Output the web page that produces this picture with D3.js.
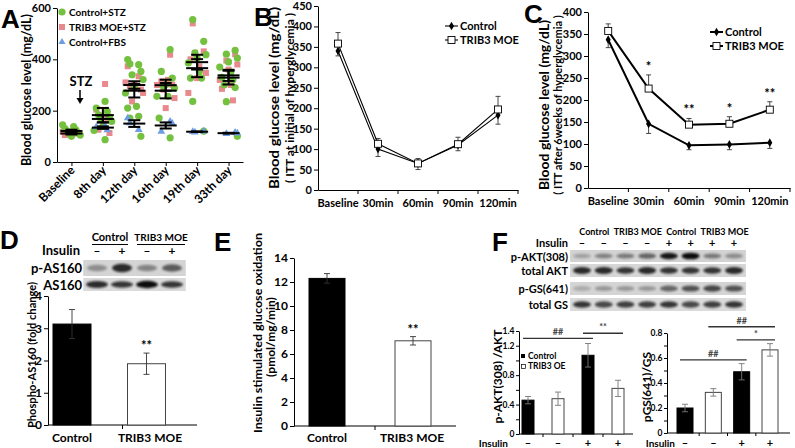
<!DOCTYPE html>
<html>
<head>
<meta charset="utf-8">
<script src="https://cdn.jsdelivr.net/npm/d3@7"></script>
<style>
  body { margin: 0; background: #fff; }
  text { font-family: Lato, 'Open Sans', sans-serif; font-weight: 700; fill: #000; }
</style>
</head>
<body>
<script>
// ---- data ----
const daysA = ['Baseline', '8th day', '12th day', '16th day', '19th day', '33th day'];
const stzCtrl = [
  [145, 138, 130, 125, 120, 115, 110, 105, 100],
  [236, 210, 197, 184, 175, 169, 158, 139, 123, 87],
  [399, 379, 382, 353, 340, 321, 292, 269, 217, 210, 178, 171, 100],
  [438, 353, 327, 295, 288, 301, 256, 256, 171, 94],
  [555, 470, 425, 418, 405, 386, 353, 327, 327, 236, 120],
  [435, 420, 405, 390, 370, 350, 330, 320, 300, 290, 235, 100]
];
const stzTrib = [
  [118, 110, 105],
  [304, 204, 169, 126, 113, 180],
  [373, 334, 295, 282, 236, 269, 300, 310],
  [418, 314, 301, 282, 249, 210, 300, 320],
  [540, 431, 425, 347, 327, 269, 373, 400],
  [420, 395, 380, 360, 320, 300, 285, 240]
];
const fbsCtrl = [
  [],
  [141, 136, 125],
  [171, 126, 152],
  [158, 119, 150],
  [118, 120, 116],
  [115, 110, 112]
];

const timesITT = ['Baseline', '30min', '60min', '90min', '120min'];
const ittBCtrl = [340, 100, 65, 110, 183];
const ittBCtrlErr = [12, 18, 15, 14, 22];
const ittBTrib = [358, 113, 65, 112, 197];
const ittBTribErr = [27, 13, 12, 17, 32];

const ittCCtrl = [337, 146, 97, 99, 103];
const ittCCtrlErr = [18, 22, 10, 12, 13];
const ittCTrib = [357, 226, 144, 146, 178];
const ittCTribErr = [16, 31, 14, 16, 18];
const ittCStars = ['', '*', '**', '*', '**'];

const groupsDE = ['Control', 'TRIB3 MOE'];
const as160 = [3.13, 1.9];
const as160Err = [0.45, 0.33];
const glucOx = [12.3, 7.1];
const glucOxErr = [0.4, 0.35];

const insulinD = ['–', '+', '–', '+'];
const bandsPAS160 = [0.35, 0.85, 0.4, 0.6];
const bandsAS160 = [0.85, 0.8, 1.0, 0.8];

const headersF = ['Control', 'TRIB3 MOE', 'Control', 'TRIB3 MOE'];
const insulinF = ['–', '–', '–', '–', '+', '+', '+', '+'];
const bandsPAKT = [0.25, 0.4, 0.45, 0.55, 0.95, 1.0, 0.45, 0.35];
const bandsAKT = [0.85, 0.85, 0.8, 0.85, 0.8, 0.8, 0.8, 0.85];
const bandsPGS = [0.2, 0.3, 0.3, 0.3, 0.55, 0.65, 0.7, 0.65];
const bandsGS = [0.8, 0.7, 0.75, 0.75, 0.8, 0.7, 0.75, 0.8];

const barsF = ['c-', 't-', 'c+', 't+'];
const barFill = ['Control', 'TRIB3 OE', 'Control', 'TRIB3 OE'];
const insulinBars = ['–', '–', '+', '+'];
const aktRatio = [0.46, 0.48, 1.07, 0.62];
const aktRatioErr = [0.05, 0.09, 0.16, 0.11];
const gsRatio = [0.2, 0.325, 0.49, 0.665];
const gsRatioErr = [0.03, 0.03, 0.065, 0.05];
const sigAkt = [{ a: 0, b: 2, v: 1.30, s: '##' }, { a: 2, b: 3, v: 1.37, s: '**' }];
const sigGs = [{ a: 1, b: 3, v: 0.85, s: '##' }, { a: 2, b: 3, v: 0.745, s: '*' }, { a: 0, b: 2, v: 0.585, s: '##' }];

// ---- setup ----
const svg = d3.select('body').append('svg').attr('width', 795).attr('height', 448);
svg.append('defs').append('filter').attr('id', 'blur')
  .attr('x', '-50%').attr('y', '-50%').attr('width', '200%').attr('height', '200%')
  .append('feGaussianBlur').attr('stdDeviation', 1.2);

// len: squeeze text to the length it has in the figure
function label(g, x, y, s, size, anchor, rot, len) {
  const t = g.append('text').attr('x', x).attr('y', y).attr('font-size', size)
    .attr('text-anchor', anchor || 'start').text(s);
  if (rot) t.attr('transform', `rotate(${rot},${x},${y})`);
  if (len) t.attr('textLength', len).attr('lengthAdjust', 'spacingAndGlyphs');
  return t;
}

function styleAxis(g, size) {
  g.attr('font-family', null).attr('font-size', size);
  g.selectAll('line, path').attr('stroke', '#000').attr('stroke-width', 1);
  g.selectAll('text').attr('fill', '#000');
}

function panelLetter(x, y, s) {
  svg.append('text').attr('x', x).attr('y', y).attr('font-size', 26)
    .style('font-family', "'Liberation Sans', Arial, sans-serif").style('font-weight', 700).text(s);
}

// ================= A =================
const gA = svg.append('g');
const xA = d3.scalePoint().domain(daysA).range([57, 243]).padding(0.46);
const yA = d3.scaleLinear().domain([0, 600]).range([162, 8]);

gA.append('g').attr('transform', 'translate(57,0)')
  .call(d3.axisLeft(yA).tickValues([0, 200, 400, 600]).tickSize(4).tickSizeOuter(0).tickPadding(2))
  .call(styleAxis, 11);
gA.append('g').attr('transform', 'translate(0,162)')
  .call(d3.axisBottom(xA).tickSize(4).tickSizeOuter(0).tickFormat(''))
  .call(styleAxis, 11);

daysA.forEach(d => label(gA, xA(d) + 4, 171, d, 12, 'end', -45));
label(gA, 31, 90, 'Blood glucose level (mg/dL)', 13, 'middle', -90, 152);

const jit = i => ((i * 5) % 9 - 4) * 2.2;
const groupsA = [
  { vals: stzTrib, kind: 'square', color: '#e8898d' },
  { vals: stzCtrl, kind: 'circle', color: '#74c03f' },
  { vals: fbsCtrl, kind: 'tri', color: '#6d9de2' }
];

groupsA.forEach(grp => {
  grp.vals.forEach((arr, j) => {
    const cx = xA(daysA[j]);
    arr.forEach((v, i) => {
      const px = cx + jit(i + j), py = yA(v);
      if (grp.kind === 'circle') {
        gA.append('circle').attr('cx', px).attr('cy', py).attr('r', 3.6).attr('fill', grp.color);
      } else if (grp.kind === 'square') {
        gA.append('rect').attr('x', px - 3).attr('y', py - 3).attr('width', 6).attr('height', 6).attr('fill', grp.color);
      } else {
        gA.append('path').attr('d', d3.symbol(d3.symbolTriangle, 26)())
          .attr('transform', `translate(${px},${py})`).attr('fill', grp.color);
      }
    });
  });
});

groupsA.forEach(grp => {
  grp.vals.forEach((arr, j) => {
    if (!arr.length) return;
    const cx = xA(daysA[j]);
    const m = d3.mean(arr);
    const se = arr.length > 1 ? d3.deviation(arr) / Math.sqrt(arr.length) : 0;
    const mk = gA.append('g').attr('stroke', '#000').attr('stroke-width', 2);
    mk.append('line').attr('x1', cx - 11).attr('x2', cx + 11).attr('y1', yA(m)).attr('y2', yA(m));
    mk.append('line').attr('x1', cx).attr('x2', cx).attr('y1', yA(m - se)).attr('y2', yA(m + se));
    [m - se, m + se].forEach(v => mk.append('line').attr('x1', cx - 6).attr('x2', cx + 6).attr('y1', yA(v)).attr('y2', yA(v)));
  });
});

// STZ arrow
label(gA, 81, 86, 'STZ', 13, 'middle');
gA.append('line').attr('x1', 80).attr('x2', 80).attr('y1', 90).attr('y2', 100).attr('stroke', '#000').attr('stroke-width', 1.5);
gA.append('path').attr('d', 'M76.5,98 L83.5,98 L80,104 Z').attr('fill', '#000');

// legend A
gA.append('circle').attr('cx', 62).attr('cy', 12).attr('r', 3.6).attr('fill', '#74c03f');
label(gA, 69, 16, 'Control+STZ', 10);
gA.append('rect').attr('x', 59).attr('y', 24).attr('width', 6).attr('height', 6).attr('fill', '#e8898d');
label(gA, 69, 31, 'TRIB3 MOE+STZ', 10);
gA.append('path').attr('d', d3.symbol(d3.symbolTriangle, 22)()).attr('transform', 'translate(62,42)').attr('fill', '#6d9de2');
label(gA, 69, 46, 'Control+FBS', 10);
panelLetter(1, 28, 'A');

// ================= B & C =================
function ittPanel(opt) {
  const g = svg.append('g');
  const x = d3.scaleBand().domain(timesITT).range([opt.x0, opt.x1]);
  const y = d3.scaleLinear().domain([0, opt.max]).range([opt.yb, opt.yt]);
  const cx = t => x(t) + x.bandwidth() / 2;

  g.append('g').attr('transform', `translate(${opt.x0},0)`)
    .call(d3.axisLeft(y).ticks(opt.max / 50).tickSize(4).tickSizeOuter(0).tickPadding(2))
    .call(styleAxis, 11);
  const ax = g.append('g').attr('transform', `translate(0,${opt.yb})`)
    .call(d3.axisBottom(x).tickSize(0).tickSizeOuter(0).tickPadding(9))
    .call(styleAxis, 11);
  timesITT.slice(1).forEach(t => ax.append('line').attr('x1', x(t)).attr('x2', x(t)).attr('y1', 0).attr('y2', 4).attr('stroke', '#000'));
  ax.append('line').attr('x1', opt.x1).attr('x2', opt.x1).attr('y1', 0).attr('y2', 4).attr('stroke', '#000');

  const line = d3.line().x((d, i) => cx(timesITT[i])).y(d => y(d));
  const err = (vals, errs, dir) => vals.forEach((v, i) => {
    const px = cx(timesITT[i]), e = v + dir * errs[i];
    g.append('line').attr('x1', px).attr('x2', px).attr('y1', y(v)).attr('y2', y(e)).attr('stroke', '#333').attr('stroke-width', 0.9);
    g.append('line').attr('x1', px - 2.5).attr('x2', px + 2.5).attr('y1', y(e)).attr('y2', y(e)).attr('stroke', '#333').attr('stroke-width', 0.9);
  });
  err(opt.ctrl, opt.ctrlErr, -1);
  err(opt.trib, opt.tribErr, 1);

  g.append('path').attr('d', line(opt.ctrl)).attr('fill', 'none').attr('stroke', '#000').attr('stroke-width', opt.lw);
  g.append('path').attr('d', line(opt.trib)).attr('fill', 'none').attr('stroke', '#000').attr('stroke-width', opt.lw);

  const diamond = d3.symbol(d3.symbolDiamond, 22)();
  opt.ctrl.forEach((v, i) => g.append('path').attr('d', diamond).attr('transform', `translate(${cx(timesITT[i])},${y(v)})`).attr('fill', '#000'));
  opt.trib.forEach((v, i) => g.append('rect').attr('x', cx(timesITT[i]) - 3.5).attr('y', y(v) - 3.5)
    .attr('width', 7).attr('height', 7).attr('fill', '#fff').attr('stroke', '#000').attr('stroke-width', 0.9));

  if (opt.stars) opt.stars.forEach((s, i) => {
    if (!s) return;
    label(g, cx(timesITT[i]), y(opt.trib[i] + opt.tribErr[i]) - 4, s, 13, 'middle');
  });

  // legend
  const L = opt.legend;
  [0, 1].forEach(k => {
    const ly = L.y + k * 14;
    g.append('line').attr('x1', L.x).attr('x2', L.x + 13).attr('y1', ly).attr('y2', ly).attr('stroke', '#000').attr('stroke-width', opt.lw);
    if (k === 0) g.append('path').attr('d', diamond).attr('transform', `translate(${L.x + 6.5},${ly})`).attr('fill', '#000');
    else g.append('rect').attr('x', L.x + 3).attr('y', ly - 3.5).attr('width', 7).attr('height', 7).attr('fill', '#fff').attr('stroke', '#000').attr('stroke-width', 0.9);
    label(g, L.x + 15, ly + 4, k === 0 ? 'Control' : 'TRIB3 MOE', 11);
  });

  label(g, opt.ylx[0], opt.ymid, 'Blood glucose level (mg/dL)', 13, 'middle', -90, opt.ylen);
  label(g, opt.ylx[1], opt.ymid, opt.yl2, opt.yl2size, 'middle', -90);
}

ittPanel({ x0: 318, x1: 518, yb: 190, yt: 6, max: 450, ctrl: ittBCtrl, ctrlErr: ittBCtrlErr,
  trib: ittBTrib, tribErr: ittBTribErr, lw: 1.1, legend: { x: 445, y: 26 },
  ylx: [279, 294], ymid: 98, ylen: 182, yl2: '( ITT at initial of hyperglycemia )', yl2size: 12 });
panelLetter(254, 26, 'B');

ittPanel({ x0: 588, x1: 790, yb: 188, yt: 12, max: 400, ctrl: ittCCtrl, ctrlErr: ittCCtrlErr,
  trib: ittCTrib, tribErr: ittCTribErr, lw: 2, stars: ittCStars, legend: { x: 710, y: 32 },
  ylx: [549, 562], ymid: 105, ylen: 170, yl2: '( ITT after 6weeks of hyperglycemia )', yl2size: 11 });
panelLetter(524, 23, 'C');

// ================= blots =================
function blotRow(g, lanes, vals, y0, y1, bg, rx) {
  const [a, b] = lanes.range();
  const step = lanes.step();
  g.append('rect').attr('x', a - step * 0.55).attr('y', y0).attr('width', b - a + step * 1.1).attr('height', y1 - y0).attr('fill', bg);
  vals.forEach((v, i) => {
    g.append('ellipse').attr('cx', lanes(i)).attr('cy', (y0 + y1) / 2).attr('rx', rx)
      .attr('ry', (y1 - y0) * (0.16 + 0.12 * v)).attr('fill', '#111').attr('opacity', v).attr('filter', 'url(#blur)');
  });
}

// ================= D =================
const gD = svg.append('g');
const laneD = d3.scalePoint().domain(d3.range(4)).range([97, 172]);
label(gD, 110, 241, 'Control', 11, 'middle');
label(gD, 161, 241, 'TRIB3 MOE', 10, 'middle');
gD.append('line').attr('x1', 92).attr('x2', 128).attr('y1', 244.5).attr('y2', 244.5).attr('stroke', '#000');
gD.append('line').attr('x1', 137).attr('x2', 185).attr('y1', 244.5).attr('y2', 244.5).attr('stroke', '#000');
label(gD, 80, 255, 'Insulin', 13, 'end');
insulinD.forEach((s, i) => label(gD, laneD(i), 255, s, 12, 'middle'));
blotRow(gD, laneD, bandsPAS160, 260, 276, '#d4d4d4', 10);
blotRow(gD, laneD, bandsAS160, 278, 291, '#dadada', 11);
label(gD, 82, 273, 'p-AS160', 13, 'end');
label(gD, 82, 290, 'AS160', 13, 'end');
panelLetter(0, 249, 'D');

const yD = d3.scaleLinear().domain([0, 4]).range([425, 296]);
const xD = d3.scalePoint().domain(groupsDE).range([72, 146.5]);
gD.append('g').attr('transform', 'translate(48,0)')
  .call(d3.axisLeft(yD).ticks(4).tickSize(4).tickSizeOuter(0).tickPadding(2)).call(styleAxis, 12);
gD.append('line').attr('x1', 48).attr('x2', 197).attr('y1', 425).attr('y2', 425).attr('stroke', '#000');
gD.append('line').attr('x1', 122.5).attr('x2', 122.5).attr('y1', 425).attr('y2', 429).attr('stroke', '#000');

function bars(g, x, y, vals, errs, w, fills, errColor) {
  vals.forEach((v, i) => {
    const c = x(x.domain()[i]);
    const black = fills[i] === 'Control';
    g.append('rect').attr('x', c - w / 2).attr('y', y(v)).attr('width', w).attr('height', y(0) - y(v))
      .attr('fill', black ? '#000' : '#fff').attr('stroke', black ? '#000' : '#444').attr('stroke-width', 1);
    const e = g.append('g').attr('stroke', errColor).attr('stroke-width', 0.9);
    e.append('line').attr('x1', c).attr('x2', c).attr('y1', y(v - errs[i])).attr('y2', y(v + errs[i]));
    [v - errs[i], v + errs[i]].forEach(t => e.append('line').attr('x1', c - 3).attr('x2', c + 3).attr('y1', y(t)).attr('y2', y(t)));
  });
}
bars(gD, xD, yD, as160, as160Err, 38, groupsDE, '#333');
label(gD, xD('TRIB3 MOE'), yD(as160[1] + as160Err[1]) - 3, '**', 13, 'middle');
label(gD, 72, 442, 'Control', 12, 'middle');
label(gD, 150, 442, 'TRIB3 MOE', 12, 'middle');
label(gD, 36, 355, 'Phospho-AS160 (fold change)', 12, 'middle', -90, 146);

// ================= E =================
const gE = svg.append('g');
const yE = d3.scaleLinear().domain([0, 14]).range([426, 258]);
const xE = d3.scalePoint().domain(groupsDE).range([327, 413]);
gE.append('g').attr('transform', 'translate(294,0)')
  .call(d3.axisLeft(yE).ticks(7).tickSize(4).tickSizeOuter(0).tickPadding(2)).call(styleAxis, 12);
gE.append('line').attr('x1', 294).attr('x2', 456).attr('y1', 426).attr('y2', 426).attr('stroke', '#000');
gE.append('line').attr('x1', 375).attr('x2', 375).attr('y1', 426).attr('y2', 430).attr('stroke', '#000');
bars(gE, xE, yE, glucOx, glucOxErr, 36, groupsDE, '#333');
label(gE, xE('TRIB3 MOE'), yE(glucOx[1] + glucOxErr[1]) - 3, '**', 13, 'middle');
label(gE, 327, 442, 'Control', 12, 'middle');
label(gE, 412, 442, 'TRIB3 MOE', 12, 'middle');
label(gE, 262, 333, 'Insulin stimulated glucose oxidation', 12, 'middle', -90, 200);
label(gE, 275, 337, '(pmol/mg/min)', 12, 'middle', -90);
panelLetter(214, 251, 'E');

// ================= F =================
const gF = svg.append('g');
const laneF = d3.scalePoint().domain(d3.range(8)).range([582, 734]);
headersF.forEach((h, k) => label(gF, (laneF(k * 2) + laneF(k * 2 + 1)) / 2 + 1.5, 235, h, 9, 'middle'));
label(gF, 568, 247, 'Insulin', 11, 'end');
insulinF.forEach((s, i) => label(gF, laneF(i), 247, s, 11, 'middle'));
blotRow(gF, laneF, bandsPAKT, 250, 262, '#d2d2d2', 9);
blotRow(gF, laneF, bandsAKT, 264, 277, '#d6d6d6', 9);
blotRow(gF, laneF, bandsPGS, 282, 295, '#d4d4d4', 9);
blotRow(gF, laneF, bandsGS, 298, 311, '#dadada', 9);
label(gF, 568, 261, 'p-AKT(308)', 11, 'end');
label(gF, 568, 275, 'total AKT', 11, 'end');
label(gF, 568, 293, 'p-GS(641)', 11, 'end');
label(gF, 568, 309, 'total GS', 11, 'end');
panelLetter(492, 251, 'F');

function smallBarChart(g, opt) {
  const x = d3.scalePoint().domain(barsF).range(opt.xr);
  const y = d3.scaleLinear().domain([0, opt.max]).range([opt.yb, opt.yt]);
  const fmt = d => Math.abs(d) < 1e-9 ? '0' : (opt.show.some(s => Math.abs(s - d) < 1e-6) ? d.toFixed(1) : '');
  g.append('g').attr('transform', `translate(${opt.ax},0)`)
    .call(d3.axisLeft(y).tickValues(d3.range(0, opt.max + 1e-6, opt.minor)).tickFormat(fmt).tickSize(3).tickSizeOuter(0).tickPadding(1.5))
    .call(styleAxis, 8.5);
  g.append('line').attr('x1', opt.ax).attr('x2', opt.axEnd).attr('y1', opt.yb).attr('y2', opt.yb).attr('stroke', '#000');
  barsF.slice(1).forEach((b, i) => {
    const mx = (x(barsF[i]) + x(b)) / 2;
    g.append('line').attr('x1', mx).attr('x2', mx).attr('y1', opt.yb).attr('y2', opt.yb + 3).attr('stroke', '#000');
  });
  bars(g, x, y, opt.vals, opt.errs, opt.bw, barFill, '#777');
  opt.sig.forEach(s => {
    const x1 = x(barsF[s.a]) - 5, x2 = x(barsF[s.b]) + 5;
    g.append('line').attr('x1', x1).attr('x2', x2).attr('y1', y(s.v)).attr('y2', y(s.v)).attr('stroke', '#333').attr('stroke-width', 1.4);
    label(g, (x1 + x2) / 2, y(s.v) - 3, s.s, 9, 'middle').style('fill', '#444');
  });
  insulinBars.forEach((s, i) => label(g, x(barsF[i]), 447, s, 11, 'middle'));
  label(g, opt.insX, 447, 'Insulin', 10, 'end');
  label(g, opt.ylx, (opt.yb + opt.yt) / 2 + opt.yloff, opt.yl, 12, 'middle', -90);
  return x;
}

smallBarChart(gF, { xr: [528, 618], ax: 519, axEnd: 633, yb: 434, yt: 331, max: 1.4, minor: 0.2,
  show: [0.4, 0.8, 1.2, 1.4], vals: aktRatio, errs: aktRatioErr, bw: 12, sig: sigAkt,
  insX: 508, ylx: 502, yl: 'p-AKT(308) /AKT', yloff: -6 });
smallBarChart(gF, { xr: [685, 770], ax: 667, axEnd: 790, yb: 433, yt: 333, max: 0.8, minor: 0.1,
  show: [0.2, 0.4, 0.6, 0.8], vals: gsRatio, errs: gsRatioErr, bw: 16, sig: sigGs,
  insX: 675, ylx: 651, yl: 'pGS(641)/GS', yloff: 4 });

// legend F-left
gF.append('rect').attr('x', 521).attr('y', 354).attr('width', 4).attr('height', 4).attr('fill', '#000');
label(gF, 528, 358.5, 'Control', 8.5);
gF.append('rect').attr('x', 521.5).attr('y', 364.5).attr('width', 4).attr('height', 4).attr('fill', '#fff').attr('stroke', '#000').attr('stroke-width', 0.7);
label(gF, 528, 369, 'TRIB3 OE', 8.5);
</script>
</body>
</html>
